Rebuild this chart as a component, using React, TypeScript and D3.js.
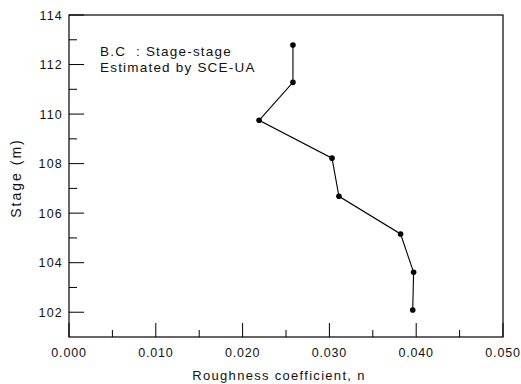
import React from "react";
import * as d3 from "d3";

const roughness = [0.0258, 0.0258, 0.0219, 0.0303, 0.0311, 0.0382, 0.0397, 0.0396];
const stage = [112.79, 111.28, 109.75, 108.22, 106.68, 105.16, 103.61, 102.09];
const xTicks = [0, 0.01, 0.02, 0.03, 0.04, 0.05];
const xMinorTicks = [0.005, 0.015, 0.025, 0.035, 0.045];
const yTicks = [102, 104, 106, 108, 110, 112, 114];
const yMinorTicks = [103, 105, 107, 109, 111, 113];

const W = 521, H = 384;
const L = 69, R = 503, T = 15, B = 337;

export default function App() {
  const x = d3.scaleLinear().domain([0, 0.05]).range([L, R]);
  const y = d3.scaleLinear().domain([101, 114]).range([B, T]);
  const pts = roughness.map((r, i) => [x(r), y(stage[i])] as [number, number]);
  const line = d3.line()(pts) || "";
  const font = "'Liberation Sans', Arial, sans-serif";
  return (
    <svg width={W} height={H} style={{ position: "absolute", left: 0, top: 0 }} fontFamily={font}>
      <rect x={0} y={0} width={W} height={H} fill="#fff" />
      <rect x={L} y={T} width={R - L} height={B - T} fill="none" stroke="#000" strokeWidth={1.2} />
      {yTicks.map((v) => (
        <g key={"y" + v}>
          <line x1={L} x2={L + 15} y1={y(v)} y2={y(v)} stroke="#000" strokeWidth={1} />
          <text x={63} y={y(v) + 4.5} fontSize={12.5} letterSpacing={1.2} textAnchor="end" fill="#111">{v}</text>
        </g>
      ))}
      {yMinorTicks.map((v) => (
        <line key={"ym" + v} x1={L} x2={L + 8} y1={y(v)} y2={y(v)} stroke="#000" strokeWidth={1} />
      ))}
      {xTicks.map((v) => (
        <g key={"x" + v}>
          <line x1={x(v)} x2={x(v)} y1={B} y2={B - 14} stroke="#000" strokeWidth={1} />
          <text x={x(v)} y={357} fontSize={12.5} letterSpacing={0.8} textAnchor="middle" fill="#111">{v.toFixed(3)}</text>
        </g>
      ))}
      {xMinorTicks.map((v) => (
        <line key={"xm" + v} x1={x(v)} x2={x(v)} y1={B} y2={B - 7} stroke="#000" strokeWidth={1} />
      ))}
      <path d={line} fill="none" stroke="#000" strokeWidth={1.1} />
      {pts.map((p, i) => (
        <circle key={i} cx={p[0]} cy={p[1]} r={2.8} fill="#000" />
      ))}
      <text x={100} y={56} fontSize={13.5} letterSpacing={1.2} fill="#111" style={{ whiteSpace: "pre" }}>{"B.C  : Stage-stage"}</text>
      <text x={100} y={72} fontSize={13.5} letterSpacing={1.2} fill="#111">Estimated by SCE-UA</text>
      <text x={279} y={380} fontSize={13} textAnchor="middle" letterSpacing={1.3} fill="#111">Roughness coefficient, n</text>
      <text transform={`translate(21,178) rotate(-90)`} fontSize={14} letterSpacing={2} textAnchor="middle" fill="#111">Stage (m)</text>
    </svg>
  );
}
